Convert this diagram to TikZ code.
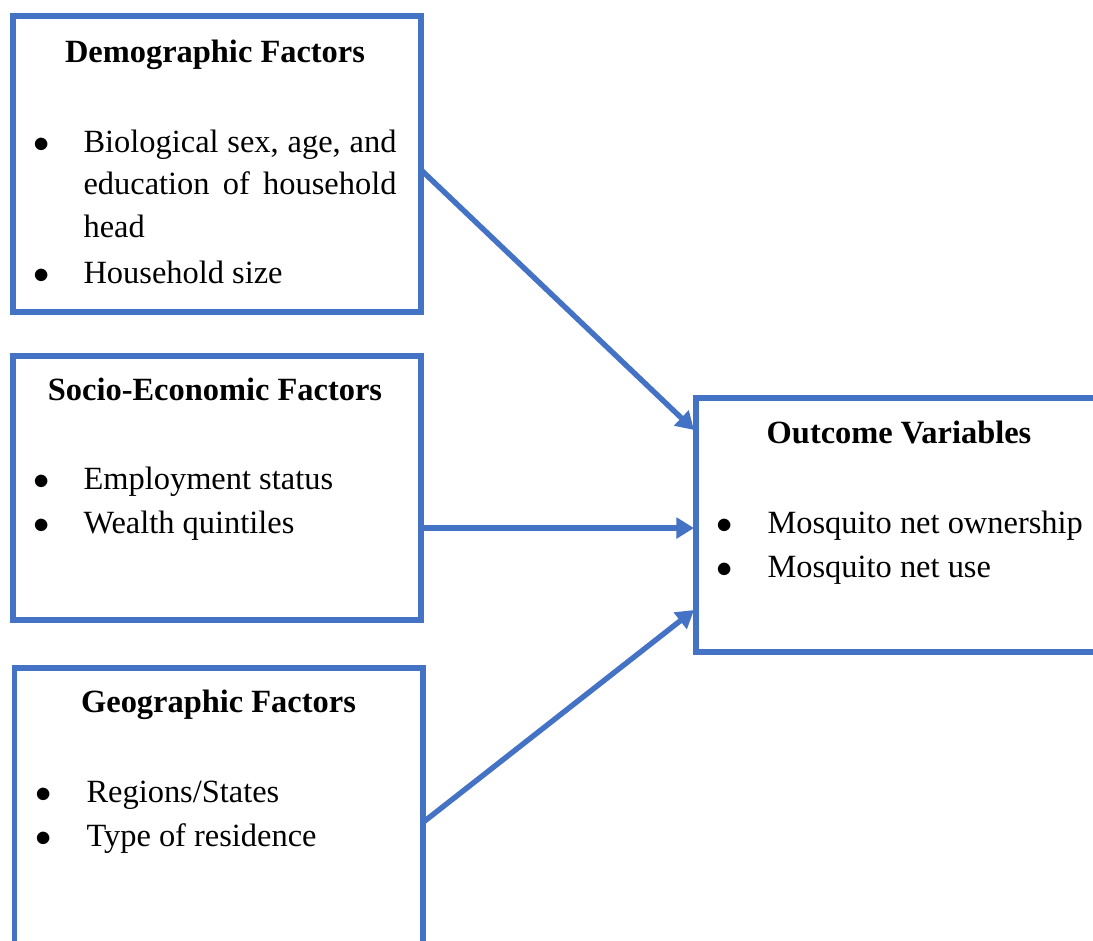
\documentclass[tikz,border=0pt]{standalone}
\usepackage{fontspec}
\setmainfont{Liberation Serif}
\usetikzlibrary{arrows.meta}
\definecolor{bordo}{HTML}{4472C4}

\begin{document}
\fontsize{12pt}{14pt}\selectfont
\begin{tikzpicture}[x=0.37pt, y=-0.37pt, >={Triangle[length=6.5pt, width=7.5pt]},
    box/.style={draw=bordo, line width=2.2pt, outer sep=0pt, inner sep=0pt, anchor=north west},
    head/.style={anchor=base, inner sep=0pt, font=\bfseries},
    itm/.style={anchor=base west, inner sep=0pt},
    bul/.style={anchor=base, inner sep=0pt},
    arr/.style={->, draw=bordo, line width=2pt}]
        \useasboundingbox (0,0) rectangle (1093,940);
        \clip (0,0) rectangle (1093,940);

        % Riquadri
        \node[box, minimum width=151pt, minimum height=109.5pt] (demo) at (13,16) {};
        \node[box, minimum width=151pt, minimum height=97.7pt] (socio) at (13,356) {};
        \node[box, minimum width=151.3pt, minimum height=120pt] (geo) at (14.5,668) {};
        \node[box, minimum width=160pt, minimum height=94pt] (outcome) at (696,398) {};

        % Fattori demografici
        \node[head] (demoT) at (215,62) {Demographic Factors};
        \node[bul] (demoB1) at (42,152) {$\bullet$};
        \node[itm] (demoI1) at (83,152) {\makebox[115.8pt][s]{Biological sex, age, and}};
        \node[itm] (demoI2) at (83,194) {\makebox[115.8pt][s]{education of household}};
        \node[itm] (demoI3) at (83,237) {head};
        \node[bul] (demoB2) at (42,283) {$\bullet$};
        \node[itm] (demoI4) at (83,283) {Household size};

        % Fattori socio-economici
        \node[head] (socioT) at (215,400) {Socio-Economic Factors};
        \node[bul] (socioB1) at (42,489) {$\bullet$};
        \node[itm] (socioI1) at (83,489) {Employment status};
        \node[bul] (socioB2) at (42,533) {$\bullet$};
        \node[itm] (socioI2) at (83,533) {Wealth quintiles};

        % Fattori geografici
        \node[head] (geoT) at (218.5,712) {Geographic Factors};
        \node[bul] (geoB1) at (44,802) {$\bullet$};
        \node[itm] (geoI1) at (86,802) {Regions/States};
        \node[bul] (geoB2) at (44,846) {$\bullet$};
        \node[itm] (geoI2) at (86,846) {Type of residence};

        % Variabili di risultato
        \node[head] (outT) at (899,443) {Outcome Variables};
        \node[bul] (outB1) at (725,533) {$\bullet$};
        \node[itm] (outI1) at (767,533) {Mosquito net ownership};
        \node[bul] (outB2) at (725,577) {$\bullet$};
        \node[itm] (outI2) at (767,577) {Mosquito net use};

        % Frecce
        \draw[arr] ([shift={(0,6)}]demo.east) -- ([shift={(-2,32)}]outcome.north west);
        \draw[arr] ([shift={(0,40)}]socio.east) -- ([shift={(-2,40)}]socio.east -| outcome.west);
        \draw[arr] ([shift={(0,154)}]geo.north east) -- ([shift={(-2,212)}]outcome.north west);
    \end{tikzpicture}
\end{document}
